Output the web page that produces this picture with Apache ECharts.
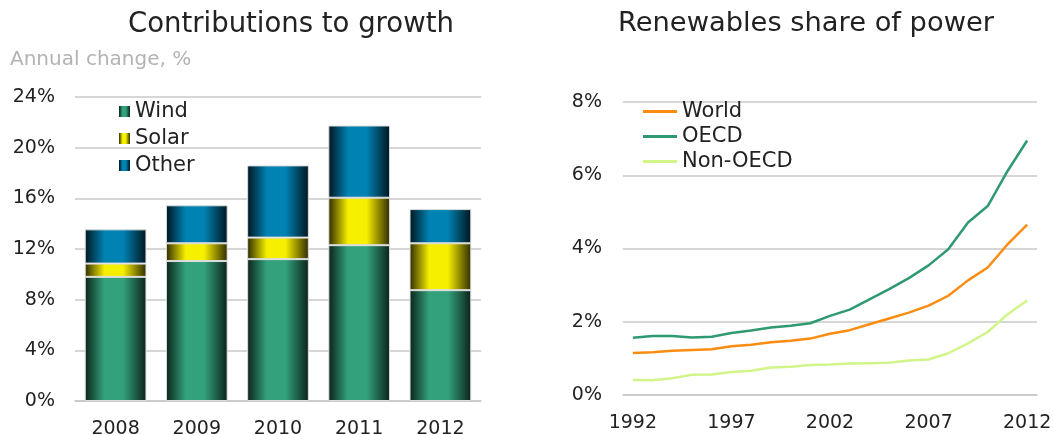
<!DOCTYPE html>
<html>
<head>
<meta charset="utf-8">
<script src="https://cdn.jsdelivr.net/npm/echarts@6/dist/echarts.min.js"></script>
<style>
html,body{margin:0;padding:0;background:#fff;}
#c{width:1053px;height:435px;}
</style>
</head>
<body>
<div id="c"></div>
<script>
// ---- Data ----
const barYears = ['2008', '2009', '2010', '2011', '2012'];
const wind  = [9.8, 11.05, 11.2, 12.3, 8.75];
const solar = [1.05, 1.4, 1.7, 3.75, 3.7];
const other = [2.7, 3.0, 5.7, 5.7, 2.7];
const barTicks = [0, 4, 8, 12, 16, 20, 24];

const shareYears = ['1992','1993','1994','1995','1996','1997','1998','1999','2000','2001','2002',
                    '2003','2004','2005','2006','2007','2008','2009','2010','2011','2012'];
const world   = [1.15,1.17,1.21,1.23,1.25,1.33,1.37,1.44,1.48,1.54,1.67,1.77,1.93,2.09,2.25,2.44,2.71,3.13,3.48,4.11,4.65];
const oecd    = [1.56,1.61,1.61,1.57,1.59,1.69,1.76,1.84,1.89,1.96,2.16,2.33,2.61,2.89,3.19,3.54,3.98,4.71,5.16,6.11,6.95];
const nonOecd = [0.41,0.40,0.46,0.55,0.56,0.63,0.66,0.75,0.77,0.82,0.83,0.86,0.87,0.88,0.94,0.97,1.14,1.41,1.72,2.20,2.58];
const shareTicks = [0, 2, 4, 6, 8];

// ---- Styles ----
const FONT = 'DejaVu Sans';
function cyl(dark, bright) {
  return new echarts.graphic.LinearGradient(0, 0, 1, 0, [
    {offset: 0, color: dark},
    {offset: 0.32, color: bright},
    {offset: 0.62, color: bright},
    {offset: 1, color: dark}
  ]);
}
const gridLine = {show: true, lineStyle: {color: '#c9c9c9', width: 1.5}};
const axisLabel = {color: '#222', fontFamily: FONT, fontSize: 19};

const chart = echarts.init(document.getElementById('c'), null, {renderer: 'canvas'});
chart.setOption({
  animation: false,
  backgroundColor: '#fff',
  title: [
    {text: 'Contributions to growth', left: 123, top: 6,
     textStyle: {fontFamily: FONT, fontSize: 27.5, fontWeight: 'normal', color: '#222'}},
    {text: 'Annual change, %', left: 5, top: 45,
     textStyle: {fontFamily: FONT, fontSize: 20, fontWeight: 'normal', color: '#b3b3b3'}},
    {text: 'Renewables share of power', left: 613, top: 5,
     textStyle: {fontFamily: FONT, fontSize: 27.3, fontWeight: 'normal', color: '#222'}}
  ],
  legend: [
    {data: ['Wind', 'Solar', 'Other'], orient: 'vertical', left: 114, top: 96,
     itemWidth: 11, itemHeight: 11, itemGap: 6, icon: 'rect',
     itemStyle: {borderWidth: 0},
     textStyle: {fontFamily: FONT, fontSize: 21, color: '#222'}},
    {data: ['World', 'OECD', 'Non-OECD'], orient: 'vertical', left: 638, top: 96,
     itemWidth: 34, itemHeight: 3, itemGap: 4, icon: 'rect',
     textStyle: {fontFamily: FONT, fontSize: 21, color: '#222'}}
  ],
  grid: [
    {left: 75, right: 572, top: 97, bottom: 34, outerBoundsMode: 'none', containLabel: false},
    {left: 623, right: 16, top: 102, bottom: 40, outerBoundsMode: 'none', containLabel: false}
  ],
  xAxis: [
    {type: 'category', gridIndex: 0, data: barYears,
     axisLine: {lineStyle: {color: '#c9c9c9', width: 1.5}}, axisTick: {show: false},
     axisLabel: Object.assign({}, axisLabel, {margin: 19})},
    {type: 'category', gridIndex: 1, data: shareYears, boundaryGap: true,
     axisLine: {lineStyle: {color: '#c9c9c9', width: 1.5}}, axisTick: {show: false},
     axisLabel: Object.assign({}, axisLabel, {margin: 19, interval: 4})}
  ],
  yAxis: [
    {type: 'value', gridIndex: 0, min: barTicks[0], max: barTicks[barTicks.length-1], interval: 4,
     axisLine: {show: false}, axisTick: {show: false}, splitLine: gridLine,
     axisLabel: Object.assign({}, axisLabel, {margin: 20, formatter: '{value}%'})},
    {type: 'value', gridIndex: 1, min: shareTicks[0], max: shareTicks[shareTicks.length-1], interval: 2,
     axisLine: {show: false}, axisTick: {show: false}, splitLine: gridLine,
     axisLabel: Object.assign({}, axisLabel, {margin: 21, formatter: '{value}%'})}
  ],
  series: [
    {name: 'Wind', type: 'bar', stack: 's', xAxisIndex: 0, yAxisIndex: 0, data: wind, barWidth: '76%',
     itemStyle: {color: cyl('#0b2219', '#33a27c'), borderColor: '#dcdcdc', borderWidth: 1}},
    {name: 'Solar', type: 'bar', stack: 's', xAxisIndex: 0, yAxisIndex: 0, data: solar, barWidth: '76%',
     itemStyle: {color: cyl('#2e2b00', '#f7ef00'), borderColor: '#dcdcdc', borderWidth: 1}},
    {name: 'Other', type: 'bar', stack: 's', xAxisIndex: 0, yAxisIndex: 0, data: other, barWidth: '76%',
     itemStyle: {color: cyl('#01151f', '#0082b2'), borderColor: '#dcdcdc', borderWidth: 1}},
    {name: 'World', type: 'line', xAxisIndex: 1, yAxisIndex: 1, data: world, symbol: 'none',
     lineStyle: {color: '#fb8c12', width: 2.5}, itemStyle: {color: '#fb8c12'}},
    {name: 'OECD', type: 'line', xAxisIndex: 1, yAxisIndex: 1, data: oecd, symbol: 'none',
     lineStyle: {color: '#2f9a71', width: 2.5}, itemStyle: {color: '#2f9a71'}},
    {name: 'Non-OECD', type: 'line', xAxisIndex: 1, yAxisIndex: 1, data: nonOecd, symbol: 'none',
     lineStyle: {color: '#d2f58a', width: 2.5}, itemStyle: {color: '#d2f58a'}}
  ]
});
</script>
</body>
</html>
